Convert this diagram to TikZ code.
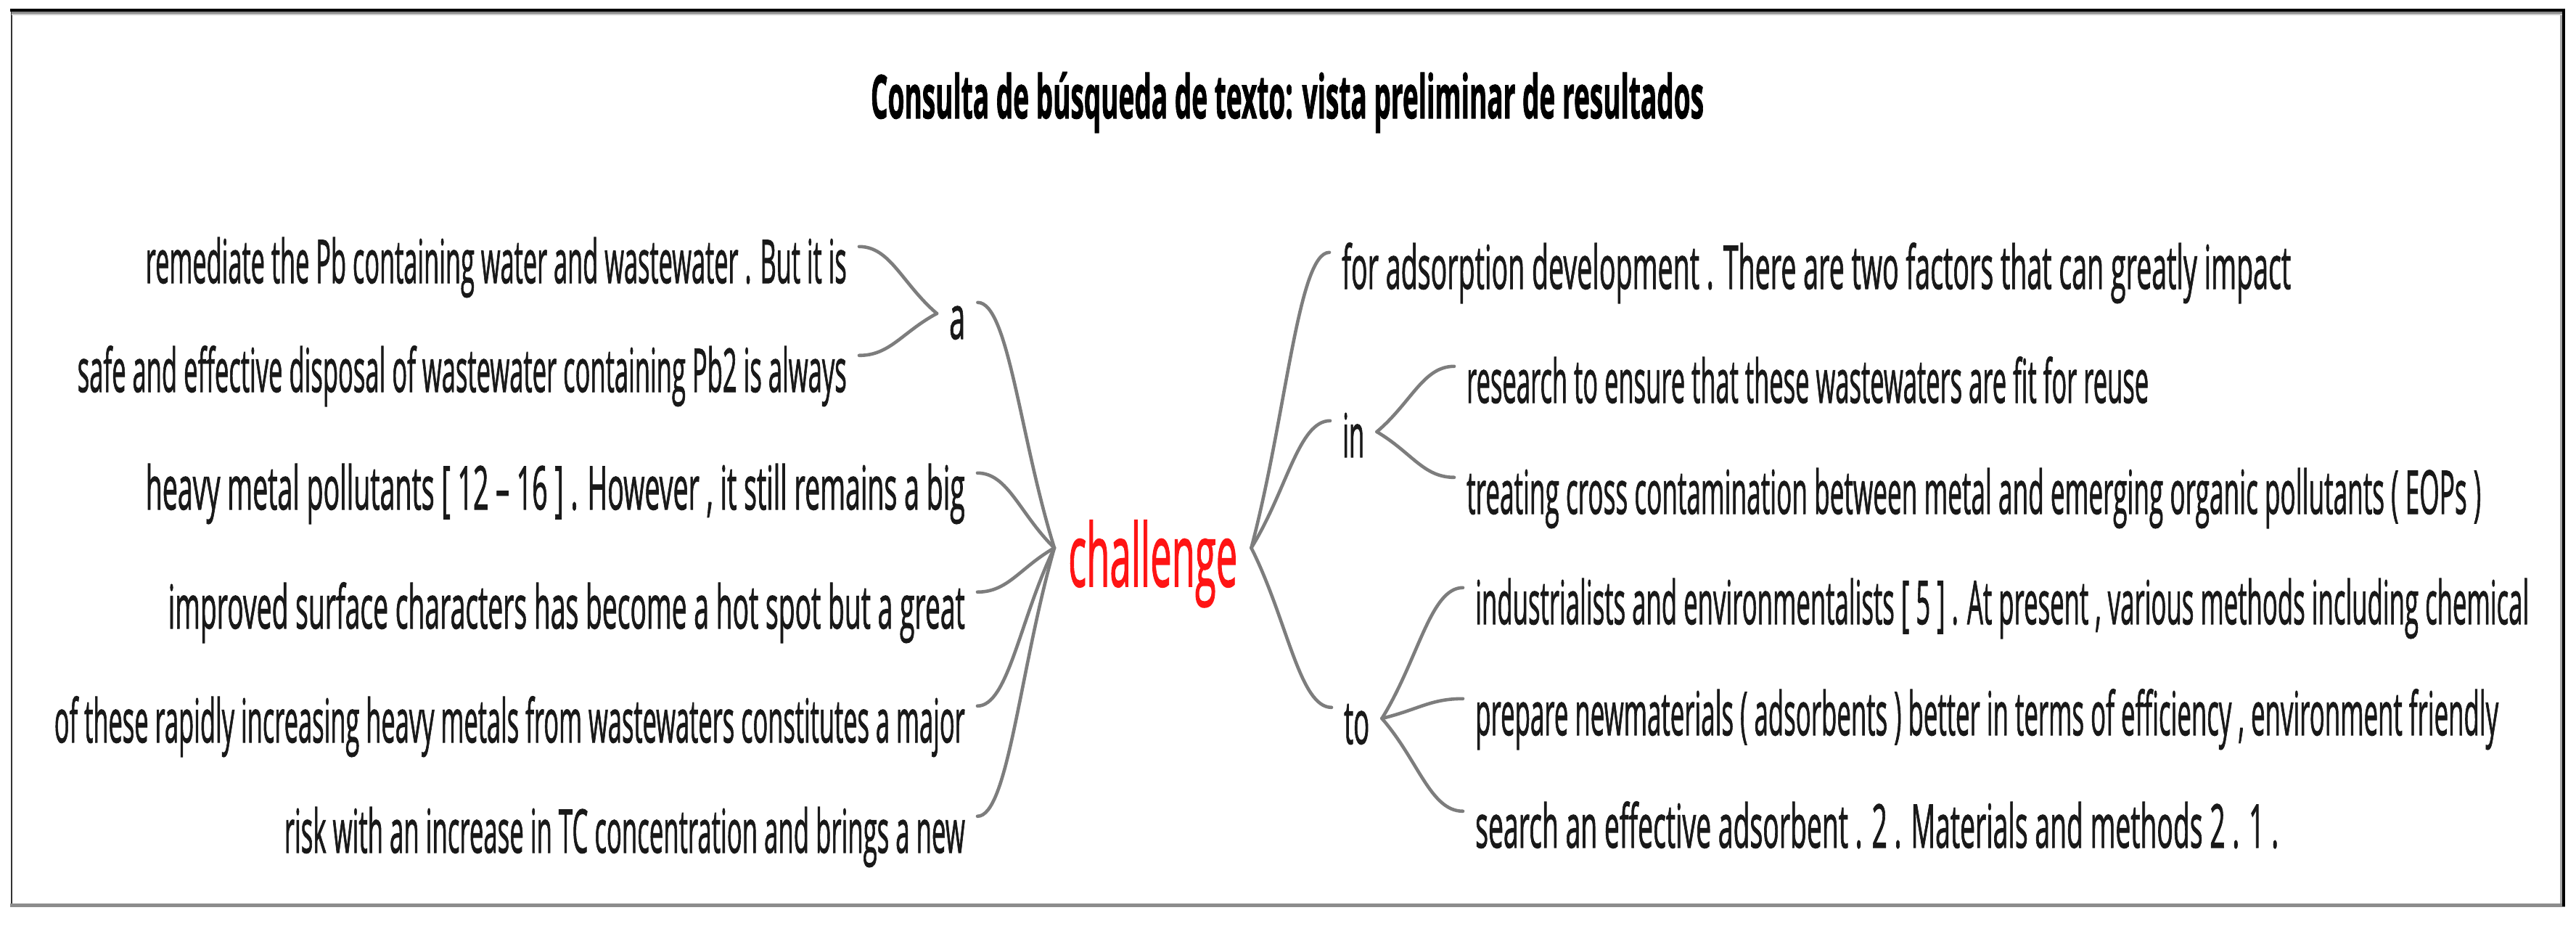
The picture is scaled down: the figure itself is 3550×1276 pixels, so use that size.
\documentclass[tikz,border=0pt]{standalone}
\usepackage{fontspec}
\usepackage{graphicx}
\setmainfont{Open Sans}
\newfontfamily\wtfont[FakeBold=1.6]{Open Sans}
\usetikzlibrary{calc}
\definecolor{linkgray}{RGB}{125,125,125}
\definecolor{txtgray}{RGB}{25,25,25}
\definecolor{hitred}{RGB}{255,20,20}
% squeeze a line horizontally to a given width (text stays real text)
\newcommand\wtfit[2]{\resizebox{#1pt}{\height}{#2}}
% word-tree connector from a leaf end (#1) to a hub (#2)
\newcommand\wtcurve[2]{\draw[wtlink] (#1) .. controls ($(#1)!0.4!(#2|-#1)$) and ($(#2)!0.45!(#1)$) .. (#2);}
\begin{document}
\begin{tikzpicture}[x=1pt,y=-1pt,
  leafL/.style={anchor=base east, inner xsep=17pt, inner ysep=0pt, text height=50pt, text depth=0pt,
    font=\wtfont\fontsize{83}{90}\selectfont, text=txtgray},
  leafR/.style={leafL, anchor=base west},
  hit/.style={anchor=base west, inner xsep=19pt, inner ysep=0pt, text height=106pt, text depth=0pt,
    font=\wtfont\fontsize{120}{130}\selectfont, text=hitred},
  titlenode/.style={anchor=base, inner sep=0pt, font=\wtfont\fontsize{83}{90}\selectfont\bfseries, text=black},
  wtlink/.style={draw=linkgray, line width=4.6pt, line cap=round},
  frameline/.style={line cap=butt}]

% page and frame
\fill[white] (0,0) rectangle (3550,1276);
\draw[frameline, line width=2pt, black!80] (16,14) -- (16,1248);
\draw[frameline, line width=5pt, black!45] (14,1247) -- (3535,1247);
\draw[frameline, line width=3pt, black!35] (3529,18) -- (3529,1245);
\draw[frameline, line width=4pt, black] (3533,12) -- (3533,1249);
\draw[frameline, line width=3pt, black!45] (16,18) -- (3531,18);
\draw[frameline, line width=2pt, black!20] (16,20.5) -- (3531,20.5);
\draw[frameline, line width=4.5pt, black] (14,14) -- (3535,14);

% title
\node[titlenode] (title) at (1774,163) {\wtfit{1148}{Consulta de búsqueda de texto: vista preliminar de resultados}};

% central keyword
\node[hit] (cl) at (1453,808) {\wtfit{233}{challenge}};

% left side
\node[leafL] (L1) at (1184,390) {\wtfit{966}{remediate the Pb containing water and wastewater . But it is}};
\node[leafL] (L2) at (1184,540) {\wtfit{1060}{safe and effective disposal of wastewater containing Pb2 is always}};
\node[leafR] (wa) at (1291,467) {\wtfit{22}{a}};
\node[leafL] (L3) at (1347,702) {\wtfit{1129}{heavy metal pollutants [ 12 – 16 ] . However , it still remains a big}};
\node[leafL] (L4) at (1347,866) {\wtfit{1098}{improved surface characters has become a hot spot but a great}};
\node[leafL] (L5) at (1347,1023) {\wtfit{1255}{of these rapidly increasing heavy metals from wastewaters constitutes a major}};
\node[leafL] (L6) at (1347,1175) {\wtfit{938}{risk with an increase in TC concentration and brings a new}};

% right side
\node[leafR] (R1) at (1832,398) {\wtfit{1308}{for adsorption development . There are two factors that can greatly impact}};
\node[leafR] (win) at (1833,630) {\wtfit{30}{in}};
\node[leafR] (R2) at (2004,555) {\wtfit{940}{research to ensure that these wastewaters are fit for reuse}};
\node[leafR] (R3) at (2004,708) {\wtfit{1398}{treating cross contamination between metal and emerging organic pollutants ( EOPs )}};
\node[leafR] (wto) at (1835,1025) {\wtfit{35}{to}};
\node[leafR] (R4) at (2016,860) {\wtfit{1452}{industrialists and environmentalists [ 5 ] . At present , various methods including chemical}};
\node[leafR] (R5) at (2016,1013) {\wtfit{1410}{prepare newmaterials ( adsorbents ) better in terms of efficiency , environment friendly}};
\node[leafR] (R6) at (2016,1168) {\wtfit{1107}{search an effective adsorbent . 2 . Materials and methods 2 . 1 .}};

% hubs
\coordinate (hubL) at (cl.west);
\coordinate (hubR) at (cl.east);
\coordinate (hubA) at ([yshift=10pt]wa.west);
\coordinate (hubIn) at ([yshift=10pt]win.east);
\coordinate (hubTo) at ([yshift=10pt]wto.east);

% connectors
\wtcurve{L1.north east}{hubA}
\wtcurve{L2.north east}{hubA}
\wtcurve{wa.north east}{hubL}
\wtcurve{L3.north east}{hubL}
\wtcurve{L4.north east}{hubL}
\wtcurve{L5.north east}{hubL}
\wtcurve{L6.north east}{hubL}

\wtcurve{R1.north west}{hubR}
\wtcurve{win.north west}{hubR}
\wtcurve{wto.north west}{hubR}
\wtcurve{R2.north west}{hubIn}
\wtcurve{R3.north west}{hubIn}
\wtcurve{R4.north west}{hubTo}
\wtcurve{R5.north west}{hubTo}
\wtcurve{R6.north west}{hubTo}
\end{tikzpicture}
\end{document}
